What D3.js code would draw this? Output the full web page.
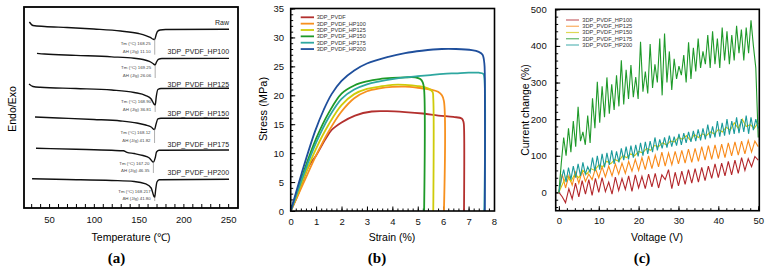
<!DOCTYPE html>
<html><head><meta charset="utf-8">
<script src="https://cdn.jsdelivr.net/npm/d3@7"></script>
<style>body{margin:0;background:#fff}svg{display:block;font-family:"Liberation Sans",Arial,sans-serif}</style>
</head><body><svg id="c" width="766" height="270"></svg>
<script>
// ---------------- DATA ----------------
// (a) DSC curves: [temperature °C, heat flow (a.u., offset)]
const dscNames = ["Raw","3DP_PVDF_HP100","3DP_PVDF_HP125","3DP_PVDF_HP150","3DP_PVDF_HP175","3DP_PVDF_HP200"];
const dscTm = ["168.25","169.25","168.90","168.12","167.20","168.217"];
const dscDH = ["11.10","26.06","36.81","41.82","46.35","41.80"];
const dscPeakT = [168.0,168.5,168.5,167.8,166.5,168.0];
const dscRaw = [[28,18.51],[32,18.16],[45,18.06],[70,17.96],[100,17.81],[130,17.61],[150,17.36],[158,17.16],[163,16.97],[166.5,16.79],[168,16.77],[169.5,17.21],[171,17.56],[174,17.71],[180,17.76],[251,17.78]];
const dscHP100 = [[36.5,15.39],[45,15.32],[80,15.19],[120,15.04],[145,14.90],[155,14.78],[162,14.58],[166,14.38],[168.5,14.23],[170,14.53],[172,14.78],[176,14.87],[251,14.89]];
const dscHP125 = [[27.6,12.34],[32,12.09],[40,12.01],[80,11.89],[120,11.74],[145,11.49],[158,11.19],[164,10.85],[167.5,10.30],[168.5,10.25],[169.8,11.14],[171.5,11.79],[175,11.89],[251,11.91]];
const dscHP150 = [[34.3,9.05],[60,8.96],[100,8.81],[130,8.66],[148,8.46],[158,8.26],[164,8.06],[167.8,7.81],[169.5,8.36],[171.5,8.86],[175,8.93],[251,8.93]];
const dscHP175 = [[35.4,5.94],[80,5.84],[120,5.74],[133,5.69],[137,5.54],[145,5.42],[155,5.22],[162,4.98],[166.5,4.55],[168.5,4.98],[170,5.57],[173,5.74],[251,5.77]];
const dscHP200 = [[31,2.91],[70,2.84],[120,2.74],[145,2.64],[158,2.39],[164,1.99],[167,1.19],[168,1.06],[169,1.79],[170.5,2.59],[173,2.81],[251,2.86]];
const dscCurves = [dscRaw,dscHP100,dscHP125,dscHP150,dscHP175,dscHP200];
const tempTicks = [50,100,150,200,250];

// (b) stress-strain
const ssNames = ["3DP_PVDF","3DP_PVDF_HP100","3DP_PVDF_HP125","3DP_PVDF_HP150","3DP_PVDF_HP175","3DP_PVDF_HP200"];
const strainPVDF = [0,0.3,0.69,1.0,1.35,1.61,2.0,2.53,3.19,3.8,4.5,5.2,5.81,6.4,6.73,6.8,6.82,6.82];
const stressPVDF = [0,3.0,7.6,9.6,12.3,14.0,15.3,16.5,17.2,17.25,17.1,16.85,16.5,16.25,16.0,15.4,14.5,0];
const strainHP100 = [0,0.5,1.0,1.5,2.0,2.5,3.0,3.5,4.0,4.5,5.0,5.5,5.8,5.95,6.03,6.03];
const stressHP100 = [0,4.8,9.6,13.8,17.2,19.5,20.7,21.2,21.45,21.5,21.3,21.0,20.6,20.0,19.0,0];
const strainHP125 = [0,0.5,1.0,1.5,2.0,2.5,3.0,3.5,4.0,4.5,5.0,5.4,5.58,5.61,5.61];
const stressHP125 = [0,5.6,10.8,15.0,18.3,20.2,21.1,21.5,21.8,21.8,21.6,21.2,20.6,19.5,0];
const strainHP150 = [0,0.5,1.0,1.5,2.0,2.5,3.0,3.5,4.0,4.5,4.9,5.1,5.2,5.25,5.25];
const stressHP150 = [0,6.6,12.5,17.0,20.3,21.7,22.4,22.8,23.0,23.1,23.1,22.8,22.2,21.0,0];
const strainHP175 = [0,0.5,1.0,1.5,2.0,2.5,3.0,3.5,4.0,4.5,5.0,5.5,6.0,6.5,7.0,7.4,7.58,7.62,7.62];
const stressHP175 = [0,6.2,11.8,16.2,19.4,21.0,21.9,22.4,22.8,23.1,23.3,23.5,23.7,23.8,23.9,23.9,23.7,23.0,0];
const strainHP200 = [0,0.43,0.96,1.3,1.61,2.0,2.5,3.0,3.84,4.5,5.16,5.94,6.5,7.13,7.4,7.55,7.62,7.64,7.64];
const stressHP200 = [0,6.5,13.8,17.5,20.2,22.5,24.3,25.5,26.65,27.3,27.7,28.0,28.0,27.8,27.5,27.0,25.5,23.0,0];
const strainSets = [strainPVDF,strainHP100,strainHP125,strainHP150,strainHP175,strainHP200];
const stressSets = [stressPVDF,stressHP100,stressHP125,stressHP150,stressHP175,stressHP200];

// (c) current change vs voltage (values sampled evenly from 0 to 50 V)
const ccNames = ["3DP_PVDF_HP100","3DP_PVDF_HP125","3DP_PVDF_HP150","3DP_PVDF_HP175","3DP_PVDF_HP200"];
const ccHP100 = [0,-12,-28,10,-18,25,-12,32,-5,35,-8,38,0,40,2,28,-5,42,5,38,8,45,3,48,12,44,10,50,15,52,12,48,35,62,10,55,18,58,22,62,25,65,28,68,32,72,38,78,40,80,45,85,48,88,52,95,60,92,70,98,88];
const ccHP125 = [0,50,12,45,20,55,25,58,30,50,35,65,40,70,42,72,45,78,50,80,52,85,58,90,60,95,62,100,65,102,70,110,72,108,75,112,78,115,80,118,82,120,85,125,88,128,90,130,92,132,95,135,100,138,102,140,105,142,110,140,125];
const ccHP150 = [0,25,45,30,50,40,60,50,65,60,75,70,85,78,90,85,100,95,105,100,112,108,120,115,128,125,135,130,140,138,150,145,155,142,158,150,160,155,165,160,172,165,178,170,190,175,200,180,185,175,190];
const ccHP175 = [0,80,150,100,175,110,195,125,234,140,165,130,210,135,257,175,302,190,290,205,314,215,295,225,320,235,361,240,335,255,348,260,315,255,411,275,330,270,405,285,350,300,420,265,434,300,385,280,365,310,345,320,375,300,410,310,395,330,420,340,385,350,430,340,440,350,420,340,450,360,440,350,430,360,455,380,445,360,450,380,470,400,340,150];
const ccHP200 = [0,35,62,28,68,35,72,40,78,45,82,50,70,55,95,58,100,62,105,68,108,75,115,78,112,82,120,88,125,90,128,95,130,98,135,100,138,105,140,110,150,115,145,120,150,122,155,125,152,128,160,130,162,135,165,138,168,140,172,142,175,145,185,148,180,150,195,152,190,155,200,158,195,160,205,162,200,165,210,160,205,170,200,175];
const ccSets = [ccHP100,ccHP125,ccHP150,ccHP175,ccHP200];

// ---------------- STYLE / LAYOUT ----------------
const ssColors = ["#b3302e","#f7901e","#cfcb0a","#1e9a28","#2ea7a0","#1f4f9c"];
const ccColors = ["#b3262a","#f98a1a","#d2c80c","#1f9a2a","#1a9a9a"];
const svg = d3.select("#c");
const tickFont = 9.5, titleFont = 10.5;

function frame(x0,y0,x1,y1,w){
  svg.append("rect").attr("x",x0).attr("y",y0).attr("width",x1-x0).attr("height",y1-y0)
    .attr("fill","none").attr("stroke","#000").attr("stroke-width",w);
}
function minorAxis(g, axis){ g.call(axis); g.select(".domain").remove(); g.selectAll("line").attr("stroke","#000").attr("stroke-width",1); }
function styleTicks(g){ g.select(".domain").remove(); g.selectAll("line").attr("stroke","#000").attr("stroke-width",1);
  g.selectAll("text").attr("font-size",tickFont).attr("fill","#111").attr("font-family","Liberation Sans, Arial, sans-serif"); }

// ======== (a) ========
const xA = d3.scaleLinear().domain([22,261]).range([24,238]);
const yA = d3.scaleLinear().domain([0,20]).range([208,7]);
const lineA = d3.line().x(d=>xA(d[0])).y(d=>yA(d[1])).curve(d3.curveMonotoneX);
// ticks
const gAx = svg.append("g").attr("transform","translate(0,208)");
minorAxis(gAx, d3.axisBottom(xA).tickValues(d3.range(30,251,10)).tickSize(-4).tickFormat(""));
gAx.selectAll("text").remove();
const gAx2 = svg.append("g").attr("transform","translate(0,208)");
gAx2.call(d3.axisBottom(xA).tickValues(tempTicks).tickSize(0).tickPadding(8.5).tickFormat(d3.format("d")));
styleTicks(gAx2);
dscCurves.forEach((c,i)=>{
  svg.append("path").attr("d",lineA(c)).attr("fill","none").attr("stroke","#111").attr("stroke-width",1.4);
});
// labels & annotations
const labelOffsets = [-6.3,-6.7,-3.3,-4.6,-5.7,-6.3];
const tmOffsets = [3.5,2,-3.3,2.8,1,-6.3];
const dhGap = [8.7,8,7.3,7.7,6.7,7];
dscCurves.forEach((c,i)=>{
  const last = c[c.length-1];
  svg.append("text").attr("x",xA(last[0])).attr("y",yA(last[1])+labelOffsets[i]).attr("dy","0.35em")
    .attr("text-anchor","end").attr("font-size",7).attr("fill","#222").text(dscNames[i]);
  const bottom = d3.min(c,d=>d[1]);
  const yb = yA(bottom);
  const px = xA(dscPeakT[i]);
  const ty = yb + tmOffsets[i];
  svg.append("text").attr("x",px-4).attr("y",ty).attr("dy","0.35em").attr("text-anchor","end")
    .attr("font-size",4.4).attr("fill","#444").text("Tm (°C) "+dscTm[i]);
  svg.append("text").attr("x",px-4).attr("y",ty+dhGap[i]).attr("dy","0.35em").attr("text-anchor","end")
    .attr("font-size",4.4).attr("fill","#444").text("ΔH (J/g) "+dscDH[i]);
  svg.append("line").attr("x1",px).attr("x2",px).attr("y1",yb).attr("y2",Math.min(ty+dhGap[i]+3,207))
    .attr("stroke","#999").attr("stroke-width",0.8);
});
frame(24,7,238,208,1.8);
svg.append("text").attr("x",131).attr("y",237).attr("dy","0.35em").attr("text-anchor","middle").attr("font-size",titleFont).text("Temperature (℃)");
svg.append("text").attr("transform","translate(12,109) rotate(-90)").attr("dy","0.35em").attr("text-anchor","middle").attr("font-size",titleFont).text("Endo/Exo");

// ======== (b) ========
const xB = d3.scaleLinear().domain([0,8]).range([290.7,494]);
const yB = d3.scaleLinear().domain([0,35]).range([211,8.5]);
const gBx = svg.append("g").attr("transform","translate(0,211)");
minorAxis(gBx, d3.axisBottom(xB).tickValues(d3.range(0,8.01,0.2)).tickSize(-2.5).tickFormat(""));
const gBx2 = svg.append("g").attr("transform","translate(0,211)");
gBx2.call(d3.axisBottom(xB).tickValues(d3.range(0,9,1)).tickSizeInner(-4.5).tickSizeOuter(0).tickPadding(7).tickFormat(d3.format("d")));
styleTicks(gBx2);
const gBy = svg.append("g").attr("transform","translate(290.7,0)");
minorAxis(gBy, d3.axisLeft(yB).tickValues(d3.range(0,35.01,1)).tickSize(-2.5).tickFormat(""));
const gBy2 = svg.append("g").attr("transform","translate(290.7,0)");
gBy2.call(d3.axisLeft(yB).tickValues(d3.range(0,36,5)).tickSizeInner(-4.5).tickSizeOuter(0).tickPadding(6.7).tickFormat(d3.format("d")));
styleTicks(gBy2);
const lineB = d3.line().x(d=>xB(d[0])).y(d=>yB(d[1])).curve(d3.curveMonotoneX);
strainSets.forEach((s,i)=>{
  const pts = s.map((v,j)=>[v,stressSets[i][j]]);
  svg.append("path").attr("d",d3.line().x(d=>xB(d[0])).y(d=>yB(d[1])).curve(d3.curveCatmullRom.alpha(0.5))(pts))
    .attr("fill","none").attr("stroke",ssColors[i]).attr("stroke-width",1.8);
});
frame(290.7,8.5,494.5,211,1.6);
ssNames.forEach((n,i)=>{
  const y = 17.3 + i*6.35;
  svg.append("line").attr("x1",300.7).attr("x2",314).attr("y1",y).attr("y2",y).attr("stroke",ssColors[i]).attr("stroke-width",1.8);
  svg.append("text").attr("x",316.7).attr("y",y).attr("dy","0.35em").attr("font-size",5.6).attr("fill","#333").text(n);
});
svg.append("text").attr("x",392).attr("y",237).attr("dy","0.35em").attr("text-anchor","middle").attr("font-size",titleFont).text("Strain (%)");
svg.append("text").attr("transform","translate(263,109) rotate(-90)").attr("dy","0.35em").attr("text-anchor","middle").attr("font-size",titleFont+0.5).text("Stress (MPa)");

// ======== (c) ========
const xC = d3.scaleLinear().domain([-0.8,50.2]).range([555.7,759]);
const yC = d3.scaleLinear().domain([-50,500]).range([210.7,9.3]);
const gCx = svg.append("g").attr("transform","translate(0,210.7)");
minorAxis(gCx, d3.axisBottom(xC).tickValues(d3.range(0,50.01,2)).tickSize(-2.5).tickFormat(""));
const gCx2 = svg.append("g").attr("transform","translate(0,210.7)");
gCx2.call(d3.axisBottom(xC).tickValues(d3.range(0,51,10)).tickSizeInner(-4.5).tickSizeOuter(0).tickPadding(7).tickFormat(d3.format("d")));
styleTicks(gCx2);
const gCy = svg.append("g").attr("transform","translate(555.7,0)");
minorAxis(gCy, d3.axisLeft(yC).tickValues(d3.range(-40,500.01,20)).tickSize(-2.5).tickFormat(""));
const gCy2 = svg.append("g").attr("transform","translate(555.7,0)");
gCy2.call(d3.axisLeft(yC).tickValues(d3.range(0,501,100)).tickSizeInner(-4.5).tickSizeOuter(0).tickPadding(9).tickFormat(d3.format("d")));
styleTicks(gCy2);
svg.append("clipPath").attr("id","clipC").append("rect").attr("x",555.7).attr("y",9.3).attr("width",759-555.7).attr("height",210.7-9.3);
const gLines = svg.append("g").attr("clip-path","url(#clipC)");
ccSets.forEach((vals,i)=>{
  const n = vals.length;
  const pts = vals.map((v,j)=>[j*50/(n-1), v]);
  gLines.append("path").attr("d",d3.line().x(d=>xC(d[0])).y(d=>yC(d[1]))(pts))
    .attr("fill","none").attr("stroke",ccColors[i]).attr("stroke-width",1.1);
});
frame(555.7,9.3,759.3,210.7,1.6);
ccNames.forEach((n,i)=>{
  const y = 20 + i*6.25;
  svg.append("line").attr("x1",566).attr("x2",579).attr("y1",y).attr("y2",y).attr("stroke",ccColors[i]).attr("stroke-width",1.2).attr("opacity",0.7);
  svg.append("text").attr("x",582.3).attr("y",y).attr("dy","0.35em").attr("font-size",5.7).attr("fill","#333").text(n);
});
svg.append("text").attr("x",657).attr("y",237).attr("dy","0.35em").attr("text-anchor","middle").attr("font-size",titleFont).text("Voltage (V)");
svg.append("text").attr("transform","translate(525,110) rotate(-90)").attr("dy","0.35em").attr("text-anchor","middle").attr("font-size",titleFont).text("Current change (%)");

// panel letters
[["(a)",116.5],["(b)",377],["(c)",642]].forEach(([t,x])=>{
  svg.append("text").attr("x",x).attr("y",258).attr("dy","0.35em").attr("text-anchor","middle")
    .attr("font-family","Liberation Serif, serif").attr("font-weight","bold").attr("font-size",15).text(t);
});
</script></body></html>
